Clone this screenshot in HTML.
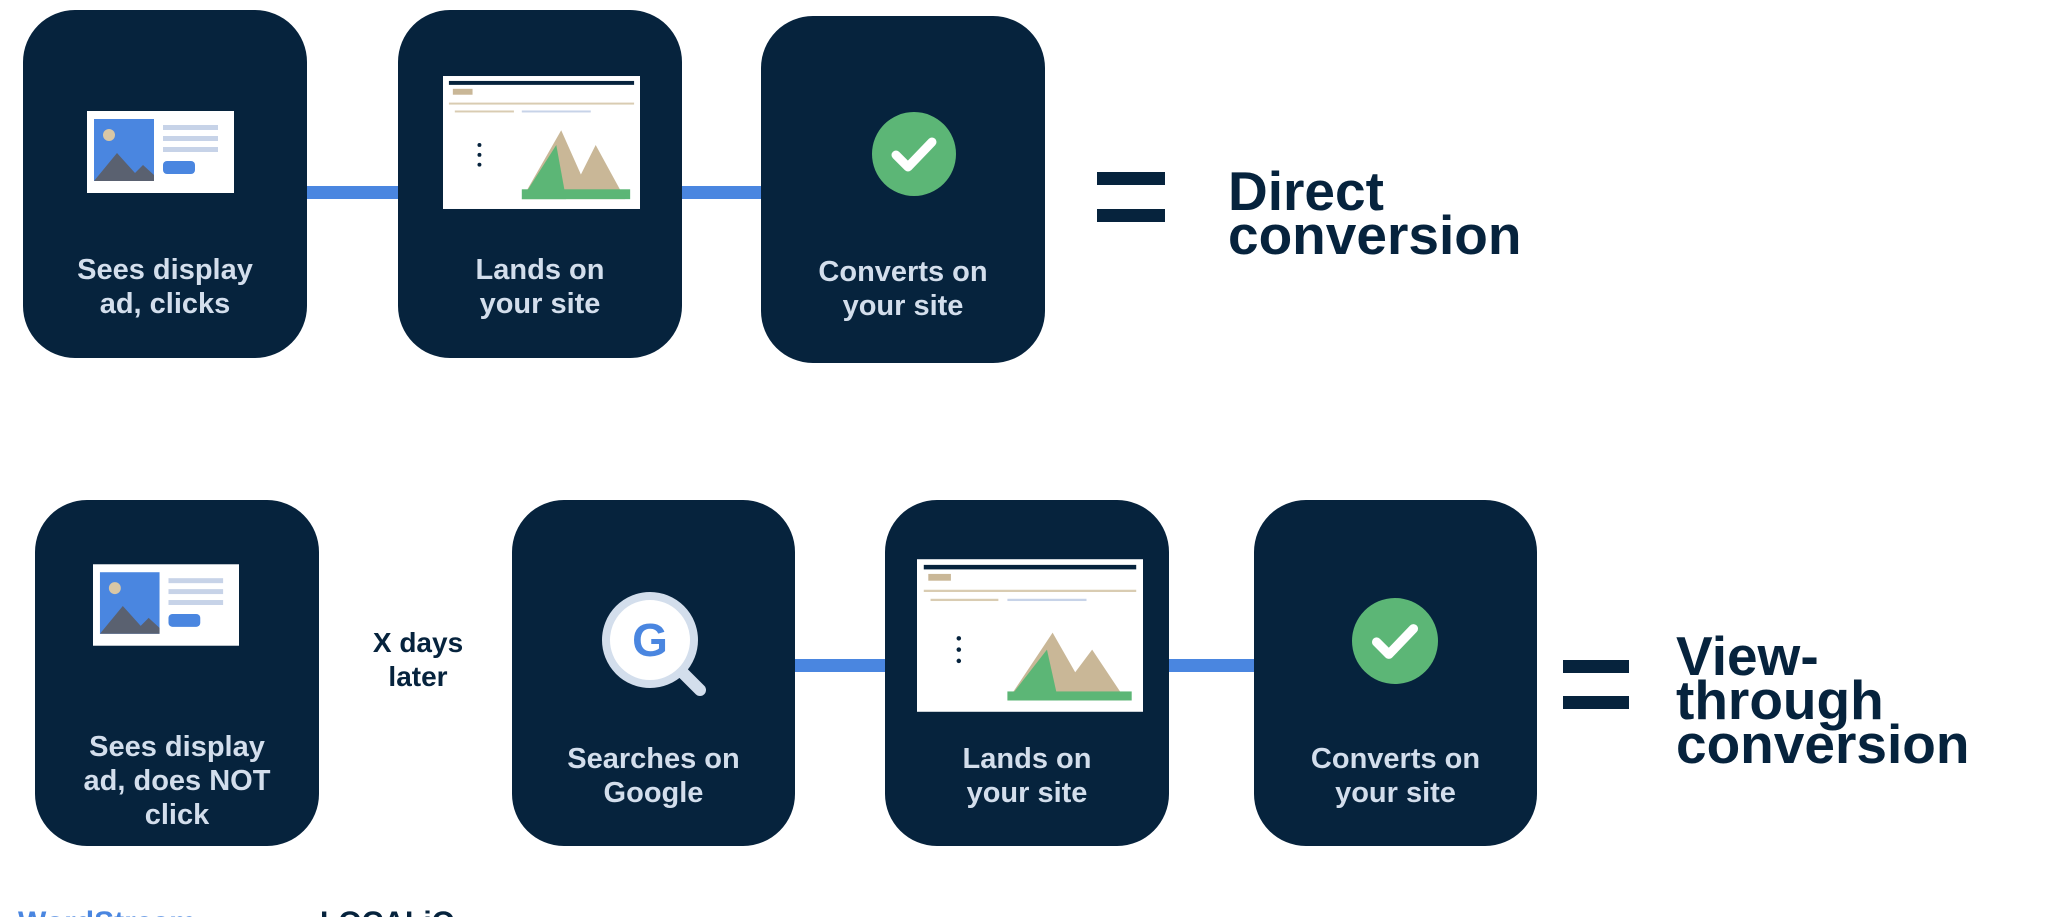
<!DOCTYPE html>
<html><head><meta charset="utf-8"><style>
html,body{margin:0;padding:0;background:#fff;width:2048px;height:917px;overflow:hidden;}
body{position:relative;font-family:"Liberation Sans",sans-serif;}
.box{position:absolute;background:#06233d;border-radius:52px;}
.lbl{position:absolute;left:0;right:0;text-align:center;color:#d3deec;font-weight:bold;font-size:29px;line-height:34px;}
.bar{position:absolute;background:#4a86e0;height:13px;}
.eq{position:absolute;background:#06233d;height:13px;}
.big{position:absolute;color:#06233d;font-weight:bold;font-size:55px;line-height:44px;}
svg{position:absolute;}
</style></head><body>

<div class="bar" style="left:300px;top:186px;width:110px;"></div>
<div class="bar" style="left:675px;top:186px;width:95px;"></div>
<div class="bar" style="left:790px;top:659px;width:100px;"></div>
<div class="bar" style="left:1164px;top:659px;width:95px;"></div>

<div class="box" style="left:23px;top:10px;width:284px;height:348px;">
  <div class="lbl" style="top:243px;">Sees display<br>ad, clicks</div>
</div>
<div class="box" style="left:398px;top:10px;width:284px;height:348px;">
  <div class="lbl" style="top:243px;">Lands on<br>your site</div>
</div>
<div class="box" style="left:761px;top:16px;width:284px;height:347px;">
  <div class="lbl" style="top:239px;">Converts on<br>your site</div>
</div>

<div class="box" style="left:35px;top:500px;width:284px;height:346px;">
  <div class="lbl" style="top:230px;">Sees display<br>ad, does NOT<br>click</div>
</div>
<div class="box" style="left:512px;top:500px;width:283px;height:346px;">
  <div class="lbl" style="top:242px;">Searches on<br>Google</div>
</div>
<div class="box" style="left:885px;top:500px;width:284px;height:346px;">
  <div class="lbl" style="top:242px;">Lands on<br>your site</div>
</div>
<div class="box" style="left:1254px;top:500px;width:283px;height:346px;">
  <div class="lbl" style="top:242px;">Converts on<br>your site</div>
</div>

<svg style="left:87px;top:111px" width="147" height="82" viewBox="0 0 147 82">
  <rect width="147" height="82" fill="#fff"/>
  <rect x="7" y="8" width="60" height="62" fill="#4a86e0"/>
  <circle cx="22" cy="24" r="6" fill="#d9c7a5"/>
  <polygon points="7,70 30,42 48,62 56,54 67,64 67,70" fill="#5a6170"/>
  <rect x="76" y="14" width="55" height="5" fill="#c7d3e8"/>
  <rect x="76" y="25" width="55" height="5" fill="#c7d3e8"/>
  <rect x="76" y="36" width="55" height="5" fill="#c7d3e8"/>
  <rect x="76" y="50" width="32" height="13" rx="4" fill="#4a86e0"/>
</svg>
<svg style="left:93px;top:564px" width="146" height="82" viewBox="0 0 147 82">
  <rect width="147" height="82" fill="#fff"/>
  <rect x="7" y="8" width="60" height="62" fill="#4a86e0"/>
  <circle cx="22" cy="24" r="6" fill="#d9c7a5"/>
  <polygon points="7,70 30,42 48,62 56,54 67,64 67,70" fill="#5a6170"/>
  <rect x="76" y="14" width="55" height="5" fill="#c7d3e8"/>
  <rect x="76" y="25" width="55" height="5" fill="#c7d3e8"/>
  <rect x="76" y="36" width="55" height="5" fill="#c7d3e8"/>
  <rect x="76" y="50" width="32" height="13" rx="4" fill="#4a86e0"/>
</svg>

<svg style="left:443px;top:76px" width="197" height="133" viewBox="0 0 200 135">
  <rect width="200" height="135" fill="#fff"/>
  <rect x="6" y="5" width="188" height="4" fill="#06233d"/>
  <rect x="10" y="13" width="20" height="6" fill="#c9b797"/>
  <rect x="6" y="27" width="188" height="2" fill="#d9ccb2"/>
  <rect x="12" y="35" width="60" height="2" fill="#d9ccb2"/>
  <rect x="80" y="35" width="70" height="2" fill="#c7d3e8"/>
  <polygon points="80,125 120,55 140,100 155,70 185,125" fill="#c9b797"/>
  <polygon points="80,125 115,70 125,125" fill="#5cb676"/>
  <rect x="80" y="115" width="110" height="10" fill="#5cb676"/>
  <circle cx="37" cy="70" r="2" fill="#06233d"/><circle cx="37" cy="80" r="2" fill="#06233d"/><circle cx="37" cy="90" r="2" fill="#06233d"/>
</svg>
<svg style="left:917px;top:559px" width="226" height="153" viewBox="0 0 200 135">
  <rect width="200" height="135" fill="#fff"/>
  <rect x="6" y="5" width="188" height="4" fill="#06233d"/>
  <rect x="10" y="13" width="20" height="6" fill="#c9b797"/>
  <rect x="6" y="27" width="188" height="2" fill="#d9ccb2"/>
  <rect x="12" y="35" width="60" height="2" fill="#d9ccb2"/>
  <rect x="80" y="35" width="70" height="2" fill="#c7d3e8"/>
  <polygon points="80,125 120,65 140,100 155,80 185,125" fill="#c9b797"/>
  <polygon points="80,125 115,80 125,125" fill="#5cb676"/>
  <rect x="80" y="117" width="110" height="8" fill="#5cb676"/>
  <circle cx="37" cy="70" r="2" fill="#06233d"/><circle cx="37" cy="80" r="2" fill="#06233d"/><circle cx="37" cy="90" r="2" fill="#06233d"/>
</svg>

<svg style="left:872px;top:112px" width="84" height="84" viewBox="0 0 84 84">
  <circle cx="42" cy="42" r="42" fill="#5cb676"/>
  <polyline points="24,43 36,55 60,30" fill="none" stroke="#fff" stroke-width="9" stroke-linecap="round" stroke-linejoin="round"/>
</svg>
<svg style="left:1352px;top:598px" width="86" height="86" viewBox="0 0 84 84">
  <circle cx="42" cy="42" r="42" fill="#5cb676"/>
  <polyline points="24,43 36,55 60,30" fill="none" stroke="#fff" stroke-width="9" stroke-linecap="round" stroke-linejoin="round"/>
</svg>

<svg style="left:600px;top:590px" width="112" height="112" viewBox="0 0 112 112">
  <line x1="78" y1="78" x2="100" y2="100" stroke="#d3deec" stroke-width="12" stroke-linecap="round"/>
  <circle cx="50" cy="50" r="44" fill="#fff" stroke="#d3deec" stroke-width="8"/>
  <text x="50" y="66" text-anchor="middle" font-family="Liberation Sans" font-weight="bold" font-size="46" fill="#4a86e0">G</text>
</svg>

<div style="position:absolute;left:338px;top:626px;width:160px;text-align:center;color:#06233d;font-weight:bold;font-size:28px;line-height:34px;">X days<br>later</div>

<div class="eq" style="left:1097px;top:172px;width:68px;"></div>
<div class="eq" style="left:1097px;top:209px;width:68px;"></div>
<div class="eq" style="left:1563px;top:660px;width:66px;"></div>
<div class="eq" style="left:1563px;top:696px;width:66px;"></div>

<div class="big" style="left:1228px;top:169px;">Direct<br>conversion</div>
<div class="big" style="left:1676px;top:634px;">View-<br>through<br>conversion</div>

<div style="position:absolute;left:18px;top:908px;color:#4a86e0;font-weight:bold;font-size:30px;line-height:30px;">WordStream</div>
<div style="position:absolute;left:320px;top:908px;color:#06233d;font-weight:bold;font-size:30px;line-height:30px;">LOCALiQ</div>
</body></html>
